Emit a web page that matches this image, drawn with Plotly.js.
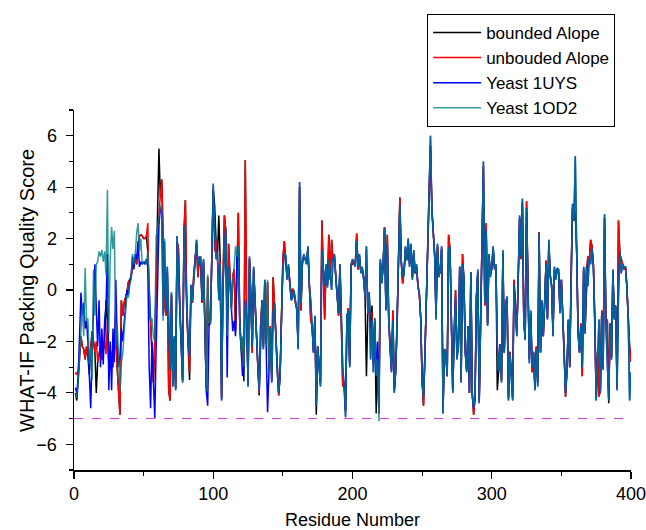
<!DOCTYPE html>
<html>
<head>
<meta charset="utf-8">
<script src="https://cdn.plot.ly/plotly-3.0.1.min.js"></script>
<style>html,body{margin:0;padding:0;background:#fff;}#chart{width:646px;height:530px;}</style>
</head>
<body>
<div id="chart"></div>
<script>
// Residue numbers run 1..400 (first residue and step given to the axis)
const residueStart = 1;
const residueStep = 1;
const seriesNames = ["bounded Alope", "unbouded Alope", "Yeast 1UYS", "Yeast 1OD2"];
const thresholdScore = -5;
const xTickVals = [0, 100, 200, 300, 400];
const yTickVals = [-6, -4, -2, 0, 2, 4, 6];
const xTitle = "Residue Number";
const yTitle = "WHAT-IF Packing Quality Score";

// Yeast 1OD2
const yeast1OD2 = [
-4.0,-4.2,-3.6,-2.5,-1.5,-0.6,-1.8,0.85,-1.2,-1.1,
-2.9,-2.2,-3.5,0.8,-1.0,1.0,1.1,1.5,1.3,1.55,
1.1,1.5,0.6,3.9,-1.7,1.2,2.45,1.6,2.3,-2.2,
-1.3,-2.6,-3.95,-2.8,-2.5,-1.6,-0.8,-0.2,-0.3,0.2,
0.4,1.4,1.0,1.4,2.2,2.6,1.5,2.0,1.0,1.1,
1.1,1.0,1.5,0.3,-1.2,-1.1,-1.8,-2.0,2.1,2.4,
3.0,3.3,3.1,-1.2,2.0,-0.8,0.9,-1.0,-3.1,-0.1,
-3.75,-1.8,-3.9,2.1,0.65,-0.8,-2.5,-3.6,2.5,1.0,
-0.9,-2.0,-2.6,0.2,-0.45,0.5,1.2,1.95,0.97,1.2,
1.3,-0.4,1.2,-1.15,-3.95,0.6,-1.3,-1.3,1.0,4.15,
2.3,1.2,1.4,-0.4,1.0,-4.3,0.25,1.5,2.45,-1.8,
0.9,0.3,-0.8,0.4,0.9,1.7,1.3,1.7,-1.15,-2.45,
-1.8,-3.0,-0.4,-1.0,-3.75,1.3,-0.15,-2.2,0.9,-0.5,
-1.7,-2.9,-3.9,-1.5,-0.4,-2.3,0.4,-2.2,0.4,-3.2,
-1.5,-3.6,-0.9,-0.5,-2.1,-3.2,-4.0,-3.35,-1.15,0.8,
1.4,1.35,0.4,1.0,0.2,-0.4,-0.3,0.0,-0.4,-0.8,
-2.3,4.2,-0.5,1.0,1.4,1.15,1.0,1.7,0.2,-0.4,
-1.5,-2.45,-1.0,-4.5,-2.2,-3.1,-3.75,1.55,0.9,0.2,
1.0,0.1,1.2,0.5,0.0,1.2,1.4,0.5,-0.2,-0.9,
1.0,-1.15,-3.0,-3.75,-4.95,-1.0,-0.8,-3.0,1.0,1.2,
1.1,0.9,1.9,0.9,1.4,0.65,0.9,0.4,-0.25,1.7,
-0.9,-0.1,-2.7,-1.2,-3.2,-1.1,-3.35,-2.7,-5.1,1.2,
0.25,1.0,2.4,-0.8,1.8,-1.15,-2.45,-3.2,-1.2,-4.0,
-3.2,-1.5,1.0,3.3,1.15,0.5,0.6,1.7,1.15,2.0,
0.9,1.8,0.4,1.55,0.65,1.0,0.1,-0.1,-1.15,-3.6,
-4.2,-2.6,-0.5,1.3,3.4,6.0,3.2,2.1,1.3,-1.15,
1.8,0.5,0.8,1.7,-4.8,-2.3,-2.45,-3.35,1.6,1.7,
-1.7,-4.0,-1.8,-0.3,-2.7,-2.2,0.9,-3.6,1.0,0.5,
-2.45,-3.2,-1.4,-4.0,0.7,-4.1,-4.6,-4.1,-0.25,0.8,
-4.4,-0.9,2.05,5.0,-0.5,2.3,-1.4,1.4,0.5,0.9,
1.7,0.8,1.0,-2.2,-3.2,-2.1,-3.6,1.55,-2.45,-0.6,
-0.25,-4.3,-2.45,-3.2,-4.3,0.2,-0.65,-1.8,0.5,2.9,
1.3,3.55,-1.15,-1.95,3.2,0.65,-2.85,-0.8,-3.0,-2.45,
-3.9,-2.3,-3.75,2.2,-2.45,-0.4,-1.8,-0.45,1.0,-1.15,
1.95,0.5,0.15,-1.8,0.9,0.4,0.85,0.8,-0.9,0.4,
-0.9,-2.45,-4.0,-3.2,-1.15,-3.0,0.65,3.35,2.7,5.2,
1.4,-1.7,-2.45,-1.4,-3.0,0.9,-1.7,0.9,0.15,1.2,
1.0,1.6,0.9,-1.15,-4.3,-2.45,-1.15,-4.0,-0.9,-3.1,
2.95,-1.4,-2.7,-4.3,-1.3,-2.7,0.8,-1.15,-0.65,-3.9,
-0.25,1.5,0.65,1.0,0.9,0.9,0.15,-1.15,-4.3,-3.2
];

// Yeast 1UYS
const yeast1UYS = [
-3.8,-4.0,-3.4,-2.0,-0.1,-1.0,-0.5,-1.5,-1.2,-2.0,
-3.4,-4.6,-2.5,-1.0,1.0,-0.7,-2.2,-0.4,-3.0,-1.5,
-2.9,-1.2,-0.6,1.4,-3.9,-2.0,-3.9,-1.5,-2.8,0.4,
-2.0,-3.0,-2.6,-1.5,-2.0,-1.3,-0.5,0.0,-0.2,0.3,
0.5,1.3,0.8,1.4,1.2,1.9,0.9,1.1,1.0,1.1,
1.0,1.2,0.9,-3.0,-4.6,-2.0,-3.5,-5.0,-2.2,1.0,
2.5,3.2,3.0,-1.0,1.9,-0.8,0.9,-1.0,-3.1,-0.1,
-3.75,-1.8,-3.9,2.1,0.65,-0.8,-2.5,-3.6,2.5,1.0,
-0.9,-2.0,-2.6,0.2,-0.45,0.5,1.2,1.95,0.97,1.2,
1.3,-0.4,1.2,-1.15,-3.95,-4.5,-1.3,-1.3,1.0,4.1,
2.3,1.2,1.4,-0.4,1.0,-4.3,0.25,1.5,2.4,-3.4,
0.9,0.3,-0.8,-1.6,-1.2,-1.8,1.3,1.7,-1.15,-2.45,
-3.35,-3.0,-0.4,-1.0,-3.75,1.3,-0.15,-2.2,0.9,-0.5,
-1.7,-2.9,-3.9,-1.5,-0.4,-2.3,0.4,-2.2,-4.75,-3.2,
-1.5,-3.6,-0.9,-0.5,-2.1,-3.2,-4.0,-3.35,-1.15,0.8,
1.4,1.35,0.4,1.0,0.2,-0.4,-0.3,0.0,-0.4,-0.8,
-2.3,4.2,-0.5,1.0,1.4,1.15,1.0,1.7,0.2,-0.4,
-1.5,-2.45,-1.0,-4.5,-2.2,-3.1,-3.75,1.55,0.9,0.2,
1.0,0.1,1.2,0.5,0.0,1.2,1.4,0.5,-0.2,-0.9,
1.0,-1.15,-3.0,-3.75,-4.95,-1.0,-0.8,-3.0,1.0,1.2,
1.1,0.9,1.9,0.9,1.4,0.65,0.9,0.4,-0.25,1.7,
-0.9,-0.1,-2.7,-1.2,-3.2,-1.1,-3.35,-2.0,-4.6,1.2,
0.25,1.0,2.4,-0.8,1.8,-1.15,-2.45,-3.2,-1.2,-4.0,
-3.2,-1.5,1.0,3.3,1.15,0.5,0.6,1.7,1.15,2.0,
0.9,1.8,0.4,1.55,0.65,1.0,0.1,-0.1,-1.15,-3.6,
-4.2,-2.6,-0.5,1.3,3.4,6.0,3.2,2.1,1.3,-1.15,
1.8,0.5,0.8,1.7,-4.8,-2.3,-2.45,-3.35,1.6,1.7,
-1.7,-4.0,-1.8,-0.3,-2.7,-2.2,0.9,-3.6,1.0,0.5,
-2.45,-3.2,-1.4,-4.0,0.7,-4.1,-4.6,-4.1,-0.25,0.8,
-4.4,-0.9,2.05,5.0,-0.5,2.3,-1.4,1.4,0.5,0.9,
1.7,0.8,1.0,-2.2,-3.2,-2.1,-3.6,1.55,-2.45,-0.6,
-0.25,-4.3,-2.45,-3.2,-4.3,0.2,-0.65,-1.8,0.5,2.9,
1.3,3.55,-1.15,-1.95,3.2,0.65,-2.85,-0.8,-3.0,-2.45,
-3.9,-2.3,-3.75,2.2,-2.45,-0.4,-1.8,-0.45,1.0,-1.15,
1.95,0.5,0.15,-1.8,0.9,0.4,0.85,0.8,-0.9,0.4,
-0.9,-2.45,-4.0,-3.2,-1.15,-3.0,0.65,3.35,2.7,5.2,
1.4,-1.7,-2.45,-1.4,-3.0,0.9,-1.7,0.9,0.15,1.2,
1.0,1.6,0.9,-1.15,-4.3,-2.45,-1.15,-4.0,-0.9,-3.1,
2.95,-1.4,-2.7,-4.3,-1.3,-2.7,0.8,-1.15,-0.65,-3.9,
-0.25,1.5,0.65,1.0,0.9,0.9,0.15,-1.15,-4.3,-3.2
];

// unbouded Alope
const unboundedAlope = [
-3.2,-3.3,-3.1,-2.4,-1.8,-2.2,-2.3,-2.7,-2.2,-2.6,
-2.7,-2.3,-1.6,-2.0,-2.4,-2.0,-2.8,-2.5,-2.2,-2.7,
-2.3,-2.0,-2.5,-1.2,-2.9,-2.8,-2.4,-3.0,-2.5,-0.8,
-3.0,-4.2,-4.85,-0.4,-1.0,-0.5,-0.3,-0.1,0.3,0.4,
0.5,0.9,1.0,1.3,1.0,1.5,2.1,2.15,2.1,2.0,
2.0,2.1,2.6,-1.0,-1.2,-2.5,-3.6,-2.0,0.5,2.0,
3.0,3.6,4.3,2.0,-0.5,-1.0,0.7,-3.9,-4.3,-0.2,
-3.6,-1.9,-3.8,1.9,1.6,-0.6,-2.4,-3.5,2.3,3.5,
-0.9,-2.2,-3.2,0.1,-0.5,0.6,1.1,1.8,0.5,1.3,
0.9,-0.5,1.1,-1.2,-3.8,0.5,-1.4,-1.2,1.1,3.9,
1.5,1.9,1.3,-0.3,1.1,-4.2,0.3,2.9,2.3,-1.6,
1.8,0.4,-0.7,0.5,0.8,-1.6,1.2,3.0,-1.1,-2.3,
-1.9,-2.9,5.05,-1.1,-3.6,1.2,-0.2,-2.45,0.8,-0.6,
-1.6,-3.0,-4.0,-1.4,-0.4,-2.2,0.3,-2.1,0.3,-3.1,
-1.4,-3.5,0.5,-0.6,-2.0,-3.1,-4.1,-3.3,-1.0,1.2,
1.9,1.3,0.5,0.9,0.3,-0.3,0.05,-0.1,-0.5,-0.7,
-2.2,4.0,-0.8,1.1,1.3,1.2,1.1,1.6,0.3,-1.15,
-1.4,-2.4,-1.1,-4.4,-2.2,-3.0,-3.6,2.7,0.8,-1.15,
0.9,0.2,2.15,0.4,1.95,1.1,1.3,0.6,-0.1,-1.0,
1.0,-1.2,-3.75,-3.6,-4.7,-1.1,-0.7,-2.9,0.9,1.1,
1.0,1.0,2.2,0.8,1.3,0.7,0.8,0.5,-0.2,1.6,
-0.9,-0.9,-0.9,-0.9,-2.9,-1.2,-3.2,-2.6,-4.8,1.1,
0.3,0.9,2.45,-0.7,2.15,-1.1,-2.4,-3.1,-0.8,-3.9,
-3.1,-1.5,1.1,3.6,1.1,0.25,0.7,1.6,1.2,1.9,
1.0,1.7,0.5,1.4,0.65,0.9,0.2,-0.2,-1.1,-3.5,
-4.5,-2.5,-0.4,1.2,3.6,5.6,3.1,2.0,1.4,-1.0,
1.7,0.6,0.7,1.6,-4.6,-2.3,-2.4,-3.35,2.15,1.6,
-1.6,-3.9,-1.7,0.0,-2.6,-2.1,0.9,-3.5,1.4,0.4,
-2.4,-3.1,-1.4,-4.0,0.7,-4.0,-4.85,-4.2,-0.3,0.7,
-4.3,-1.0,1.9,4.8,-0.6,2.6,-1.3,1.3,0.6,0.8,
1.6,0.9,0.9,-2.1,-3.1,-2.1,-3.5,1.4,-2.4,-0.5,
-0.3,-4.2,-2.4,-3.1,-4.2,0.4,-0.6,-1.7,0.4,2.8,
1.2,3.4,-1.1,-1.9,3.45,0.6,-2.7,-0.9,-3.2,-2.4,
-3.8,-2.2,-3.6,2.25,-2.4,-0.5,-1.8,-0.5,1.15,-1.1,
1.8,0.6,0.15,-1.7,0.8,0.5,0.8,0.7,-0.8,0.4,
-0.8,-2.4,-4.15,-3.1,-1.2,-3.0,0.6,3.2,2.7,3.0,
1.5,-1.6,-2.4,-1.3,-3.35,0.8,-1.6,0.8,1.3,1.1,
1.95,1.7,1.0,-1.1,-4.2,-2.4,-4.15,-3.9,-0.8,-3.0,
2.8,-1.3,-1.15,-4.2,-1.3,-2.6,0.7,-1.1,-0.6,-3.8,
2.7,1.4,1.15,1.0,0.8,0.9,0.2,-1.1,-2.2,-2.8
];

// bounded Alope
const boundedAlope = [
-4.0,-4.3,-3.5,-2.4,-1.8,-2.2,-2.3,-2.7,-2.2,-2.6,
-3.3,-2.3,-1.6,-2.0,-2.4,-4.0,-2.8,-2.5,-2.2,-2.7,
-2.3,-2.0,-0.4,-1.2,-2.9,-2.8,-2.4,-3.0,-2.5,-0.8,
-3.0,-4.2,-4.85,-0.4,-1.0,-0.5,-0.3,-0.1,0.3,0.4,
0.5,0.9,1.0,1.3,1.0,1.5,2.1,2.15,2.1,2.0,
2.0,2.1,1.5,0.0,-1.2,-2.5,-3.6,-2.0,0.5,2.0,
5.5,3.6,4.3,2.0,-0.5,-1.0,0.7,-3.9,-4.3,-0.2,
-3.6,-1.9,-3.8,1.9,1.6,-0.6,-2.4,-3.5,2.3,3.5,
-0.9,-2.2,-3.5,0.1,-0.5,0.6,1.1,1.8,0.5,1.3,
0.9,-0.5,1.1,-1.2,-3.8,0.5,-1.4,-1.2,1.1,3.9,
3.3,1.9,1.3,2.9,1.1,-4.2,0.3,2.9,2.3,-1.6,
1.8,0.4,-0.7,0.5,0.8,-1.6,1.2,3.0,-1.1,-2.3,
-1.9,-3.55,5.05,-1.1,-3.6,1.2,-0.2,-2.45,0.8,-0.6,
-1.6,-3.0,-4.1,-1.4,-0.4,-2.2,0.3,-2.1,0.3,-3.1,
-1.4,-3.5,0.5,-0.6,-2.0,-3.1,-4.1,-3.3,-1.0,1.2,
1.9,1.3,0.5,0.9,0.3,-0.3,0.05,-0.1,-0.5,-0.7,
-2.2,4.0,-0.8,1.1,1.3,1.2,1.1,1.6,0.0,-1.15,
-1.4,-2.4,-1.1,-4.85,-2.2,-3.0,-3.6,2.7,0.8,-1.15,
0.9,0.2,2.15,0.4,1.95,1.1,1.3,0.6,-0.1,-1.0,
1.0,-1.2,-3.75,-3.6,-4.7,-1.1,-0.7,-2.9,0.9,1.1,
1.0,1.0,2.2,0.8,1.3,0.7,0.8,0.5,-0.2,-3.35,
-0.9,-0.1,-1.5,-0.6,-2.9,-1.2,-4.8,-2.6,-4.8,1.1,
0.3,0.9,2.45,-0.7,2.15,-1.1,-2.4,-3.1,-0.8,-3.9,
-3.1,-1.5,1.1,3.6,1.1,0.25,0.7,1.6,1.2,1.9,
1.0,1.7,0.5,1.4,0.65,0.9,0.2,-0.2,-1.1,-3.5,
-4.5,-2.5,-0.4,1.2,3.6,5.6,3.1,2.0,1.4,-1.0,
1.7,0.6,0.7,1.6,-4.6,-2.3,-2.4,-3.35,2.15,1.6,
-1.6,-3.9,-1.7,0.0,-2.6,-2.1,0.9,-3.5,1.4,0.4,
-2.4,-3.1,-1.4,-4.0,0.7,-4.0,-4.85,-4.2,-0.3,0.7,
-4.3,-1.0,1.9,4.8,-0.6,2.6,-1.3,1.3,0.6,0.8,
1.6,0.9,0.9,-3.9,-3.1,-2.1,-3.5,1.4,-2.4,-0.5,
-0.3,-4.2,-2.4,-3.1,-4.2,0.4,-0.6,-1.7,0.4,2.8,
1.2,3.4,-1.1,-1.9,3.45,0.6,-2.7,-0.9,-3.2,-2.4,
-3.8,-2.2,-3.6,2.25,-2.4,-0.5,-1.8,-0.5,1.15,-1.1,
1.8,0.6,0.15,-1.7,0.8,0.5,0.8,0.7,-0.8,0.4,
-0.8,-2.4,-4.15,-3.1,-1.2,-3.0,0.6,3.2,2.7,3.0,
1.5,-1.6,-2.4,-1.3,-3.35,0.8,-1.6,0.15,1.3,1.1,
1.95,1.7,1.0,-1.1,-4.2,-2.4,-4.15,-3.9,-0.8,-3.0,
2.8,-1.3,-1.15,-4.4,-1.3,-2.6,0.7,-1.1,-0.6,-3.8,
2.7,1.4,1.15,1.0,0.8,0.9,0.2,-1.1,-2.2,-2.8
];

const seriesValues = [boundedAlope, unboundedAlope, yeast1UYS, yeast1OD2];
const seriesColors = ["#000000", "#ff0000", "#0000ff", "#008080"];
const seriesOpacity = [1, 1, 1, 0.8];

const FONT = "Liberation Sans, Arial, Helvetica, sans-serif";

const traces = seriesValues.map((vals, i) => ({
  type: "scatter",
  mode: "lines",
  name: seriesNames[i],
  y: vals,
  x0: residueStart,
  dx: residueStep,
  line: { color: seriesColors[i], width: 1.5 },
  opacity: seriesOpacity[i]
}));

const layout = {
  width: 646,
  height: 530,
  margin: { l: 74, r: 15, t: 110, b: 60 },
  paper_bgcolor: "#ffffff",
  plot_bgcolor: "#ffffff",
  font: { family: FONT, color: "#000000", size: 16 },
  showlegend: true,
  legend: {
    x: 0.634, y: 1.267, xanchor: "left", yanchor: "top",
    bgcolor: "#ffffff", bordercolor: "#000000", borderwidth: 1,
    font: { family: FONT, size: 17, color: "#000000" },
    itemwidth: 48,
    tracegroupgap: 0
  },
  xaxis: {
    range: [0, 400],
    tickmode: "array",
    tickvals: xTickVals,
    ticks: "outside",
    ticklen: 7,
    tickwidth: 1.2,
    tickcolor: "#000000",
    minor: { dtick: 50, ticks: "outside", ticklen: 4, tickwidth: 1.2, tickcolor: "#000000", showgrid: false },
    showline: true,
    linecolor: "#000000",
    linewidth: 1.5,
    showgrid: false,
    zeroline: false,
    ticklabeloverflow: "allow",
    tickfont: { family: FONT, size: 18 },
    title: { text: xTitle, font: { family: FONT, size: 18 }, standoff: 10 }
  },
  yaxis: {
    range: [-7, 7],
    tickmode: "array",
    tickvals: yTickVals,
    ticks: "outside",
    ticklen: 7,
    tickwidth: 1.2,
    tickcolor: "#000000",
    minor: { dtick: 1, ticks: "outside", ticklen: 4, tickwidth: 1.2, tickcolor: "#000000", showgrid: false },
    showline: true,
    linecolor: "#000000",
    linewidth: 1.5,
    showgrid: false,
    zeroline: false,
    ticklabelstandoff: 5,
    tickfont: { family: FONT, size: 18 }
  },
  annotations: [{
    text: yTitle,
    xref: "paper", yref: "paper",
    x: -0.0844, y: 0.5,
    xanchor: "center", yanchor: "middle",
    textangle: -90,
    showarrow: false,
    font: { family: FONT, size: 20, color: "#000000" }
  }],
  shapes: [{
    type: "line", xref: "x", yref: "y",
    x0: 0, x1: 400, y0: thresholdScore, y1: thresholdScore,
    line: { color: "#d63bd6", width: 1, dash: "dash" },
    layer: "above"
  }]
};

Plotly.newPlot("chart", traces, layout, { displayModeBar: false, staticPlot: true });
</script>
</body>
</html>
